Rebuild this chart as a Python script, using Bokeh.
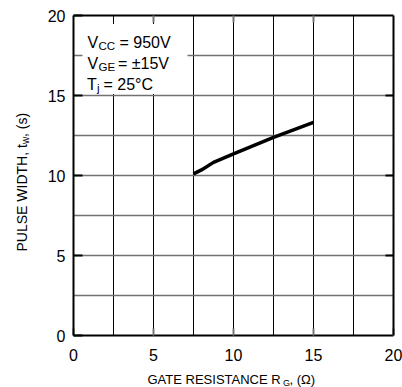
from bokeh.plotting import figure
from bokeh.models import (Range1d, FixedTicker, LinearAxis, Label, BoxAnnotation, Grid)
from bokeh.embed import file_html
from bokeh.resources import INLINE
import math

# ---- data ----
rg_ohm = [7.5, 8.0, 8.75, 10.0, 12.5, 15.0]
tw_s = [10.1, 10.35, 10.82, 11.35, 12.38, 13.32]

x_major = [0, 5, 10, 15, 20]
y_major = [0, 5, 10, 15, 20]
grid_ticks = [2.5, 5, 7.5, 10, 12.5, 15, 17.5]
x_lo, x_hi = 0, 20
y_lo, y_hi = 0, 20

FONT = "Liberation Sans"

# page geometry of the plotting box (px) -> whole canvas is the frame
W, H = 402, 387
FL, FT, FS = 73.0, 15.0, 320.0
PPU = FS / (x_hi - x_lo)


def dx(px):
    return (px - FL) / PPU


def dy(py):
    return (FT + FS - py) / PPU


p = figure(width=W, height=H, output_backend="svg", toolbar_location=None,
           x_range=Range1d(dx(0), dx(W)), y_range=Range1d(dy(H), dy(0)),
           min_border=0)
p.background_fill_color = "white"
p.border_fill_color = "white"
p.outline_line_color = None

# grids, limited to the plotting box
has_cb = "cross_bounds" in Grid.properties()
for g, col, w in ((p.xgrid, "black", 1.0), (p.ygrid, "#727272", 1.4)):
    g.ticker = FixedTicker(ticks=grid_ticks)
    g.grid_line_color = col
    g.grid_line_width = w
    g.bounds = (x_lo, x_hi)
    if has_cb:
        g.cross_bounds = (y_lo, y_hi)


def style_axis(ax, ticks, tick_color, tick_len, show_labels, standoff):
    ax.ticker = FixedTicker(ticks=ticks)
    ax.bounds = (0, 20)
    ax.axis_line_width = 2
    ax.axis_line_color = "black"
    ax.major_tick_in = tick_len
    ax.major_tick_out = 0
    ax.major_tick_line_color = tick_color
    ax.major_tick_line_width = 2
    ax.minor_tick_line_color = None
    ax.major_label_text_font = FONT
    ax.major_label_text_color = "black"
    ax.major_label_standoff = standoff
    if show_labels:
        ax.major_label_text_font_size = "16px"
    else:
        ax.major_label_text_font_size = "0px"
        ax.major_label_text_color = None


xa = p.xaxis[0]
xa.fixed_location = y_lo
style_axis(xa, x_major, "#777777", 7, True, 13)

ya = p.yaxis[0]
ya.fixed_location = x_lo
style_axis(ya, y_major, "black", 9, True, 8)

ra = LinearAxis(fixed_location=x_hi)
style_axis(ra, [5, 10, 15], "black", 8, False, 0)
p.add_layout(ra, "right")

ta = LinearAxis(fixed_location=y_hi)
style_axis(ta, [5, 10, 15], "#777777", 7, False, 0)
p.add_layout(ta, "above")

if not has_cb:
    p.segment(x0=grid_ticks, y0=[y_lo] * len(grid_ticks), x1=grid_ticks,
              y1=[y_hi] * len(grid_ticks), line_color="black", line_width=1)

# curve
p.line(rg_ohm, tw_s, line_color="black", line_width=3.5)

# white box behind condition text
p.add_layout(BoxAnnotation(left=dx(82), right=dx(187), top=dy(23.5), bottom=dy(93.5),
                           fill_color="white", fill_alpha=1.0, line_color=None,
                           level="underlay"))


def txt(x, y, s, size, angle=0.0):
    p.add_layout(Label(x=x, y=y, text=s, text_font=FONT, text_font_size=size,
                       text_color="black", text_align="left",
                       text_baseline="alphabetic", angle=angle))


# condition block
MAIN, SUB = "16px", "11.5px"
txt(dx(87), dy(42), "V", MAIN)
txt(dx(98), dy(45), "CC", SUB)
txt(dx(119), dy(42), "= 950V", MAIN)
txt(dx(87), dy(63), "V", MAIN)
txt(dx(98), dy(66), "GE", SUB)
txt(dx(117.5), dy(63), "= \u00b115V", MAIN)
txt(dx(86.5), dy(84), "T", MAIN)
txt(dx(96.5), dy(87), "j", SUB)
txt(dx(103), dy(84), "= 25\u00b0C", MAIN)

# x axis title
txt(dx(147), dy(379), "GATE RESISTANCE R", "13px")
txt(dx(282.5), dy(382), "G", "9px")
txt(dx(289), dy(379), ", (\u03a9)", "13px")

# y axis title (rotated)
A = math.pi / 2
txt(dx(21.5), dy(251), "PULSE WIDTH, t", "14px", A)
txt(dx(24.5), dy(143.5), "w", "10px", A)
txt(dx(21.5), dy(136.5), ", (s)", "14px", A)

open("out.html", "w").write(file_html(p, INLINE))
